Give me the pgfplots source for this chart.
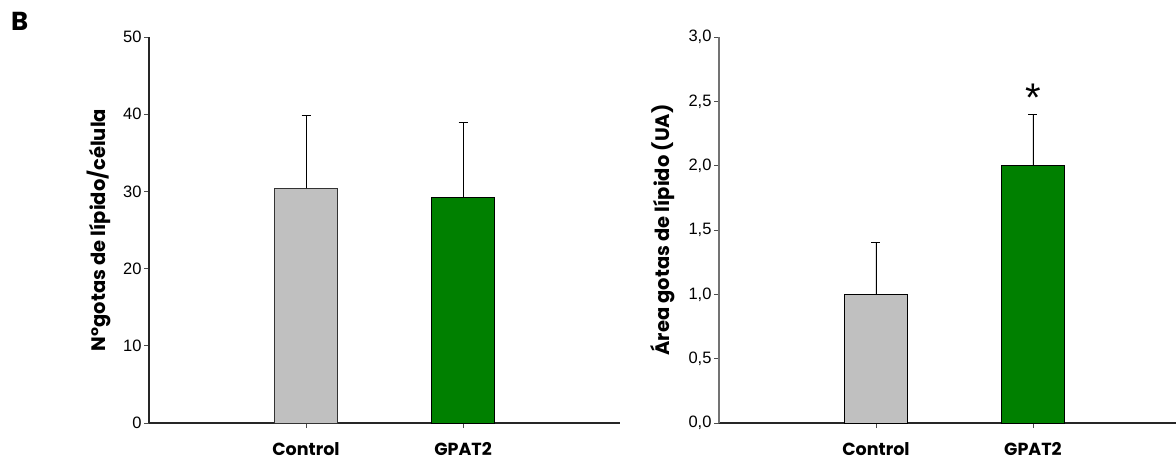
\documentclass[border=0pt]{standalone}
\usepackage{fontspec}
\setmainfont{Liberation Sans}
\newfontfamily\gothic{Poppins}
\usepackage{pgfplots}
\pgfplotsset{compat=1.18}
\definecolor{barGray}{HTML}{C0C0C0}
\definecolor{barGreen}{HTML}{008000}
\pgfplotsset{
  panel/.style={
    scale only axis,
    height=386pt,
    ymin=0,
    xmin=0,
    axis x line*=bottom,
    axis y line*=left,
    axis line style={-, line width=1.2pt, black!85},
    tick align=outside,
    major tick length=5pt,
    tick style={line width=0.9pt, black!70},
    xtick={1,2},
    xticklabels={Control,GPAT2},
    xticklabel style={font=\gothic\bfseries\fontsize{17.5}{17.5}\selectfont, yshift=-11pt},
    yticklabel style={font=\fontsize{16.5}{16.5}\selectfont, xshift=1pt},
    /pgf/number format/assume math mode=true,
    bar width=63pt,
    clip=false,
    error bars/y dir=plus,
    error bars/y explicit,
    error bars/error bar style={line width=0.9pt, black},
    error bars/error mark options={rotate=90, mark size=4.5pt, line width=0.9pt, black},
  },
}
\begin{document}
\begin{tikzpicture}[x=1pt,y=1pt]
\path[use as bounding box] (0,0) rectangle (1176,461);
\node[anchor=north west, inner sep=0pt, font=\gothic\bfseries\fontsize{26}{26}\selectfont] at (11,449) {B};
\begin{axis}[panel,
  at={(149pt,38pt)}, anchor=south west,
  width=471pt, xmax=3,
  ymax=50, ytick={0,10,20,30,40,50},
]
\addplot[ybar, bar shift=0pt, fill=barGray, draw=black!80, line width=0.9pt]
  coordinates {(1,30.4) +- (0,9.4)};
\addplot[ybar, bar shift=0pt, fill=barGreen, draw=black, line width=0.9pt]
  coordinates {(2,29.2) +- (0,9.7)};
\end{axis}
\node[rotate=90, anchor=center, inner sep=0pt, font=\gothic\bfseries\fontsize{19.5}{19.5}\selectfont] at (99,231) {N°gotas de lípido/célula};
\begin{axis}[panel,
  at={(719pt,38pt)}, anchor=south west,
  width=457pt, xmax=2.911,
  ymax=3, ytick={0,0.5,1,1.5,2,2.5,3},
  yticklabel={\pgfmathprintnumber[fixed,fixed zerofill,precision=1,use comma]{\tick}},
  y axis line style={black!55},
]
\addplot[ybar, bar shift=0pt, fill=barGray, draw=black, line width=0.9pt]
  coordinates {(1,1.0) +- (0,0.4)};
\addplot[ybar, bar shift=0pt, fill=barGreen, draw=black, line width=0.9pt]
  coordinates {(2,2.0) +- (0,0.4)};
\node[anchor=north, inner sep=0pt, font=\fontsize{40}{40}\selectfont] at (axis cs:2,2.635) {*};
\end{axis}
\node[rotate=90, anchor=center, inner sep=0pt, font=\gothic\bfseries\fontsize{19.5}{19.5}\selectfont] at (663,231) {Área gotas de lípido (UA)};
\end{tikzpicture}
\end{document}
